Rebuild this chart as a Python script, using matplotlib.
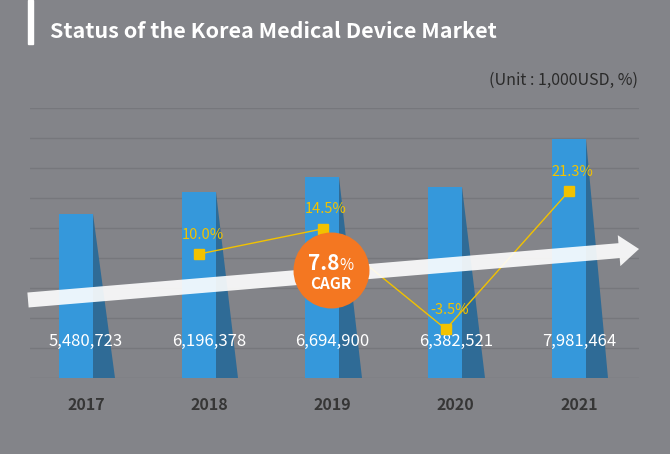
import matplotlib
matplotlib.use('Agg')
import matplotlib.pyplot as plt
from matplotlib.patches import FancyArrow, Polygon
import matplotlib.transforms as mtransforms
import numpy as np

plt.rcParams['font.family'] = ['Noto Sans CJK KR', 'DejaVu Sans']

# data
years = ['2017', '2018', '2019', '2020', '2021']
market = [5480723, 6196378, 6694900, 6382521, 7981464]
growth = [None, 10.0, 14.5, -3.5, 21.3]
cagr = 7.8

bg = '#838489'
blue = '#3598db'
shade = '#2f6b96'
yellow = '#f2c200'
orange = '#f47721'

fig = plt.figure(figsize=(6.7, 4.54), dpi=100)
fig.patch.set_facecolor(bg)
ax = fig.add_axes([30/670, 76/454, 609/670, 270/454])
ax.set_facecolor(bg)

x = np.arange(len(years))
ax.set_xlim(-0.454, 4.487)
ax.set_ylim(0, 9000000)

# grid lines
for g in range(0, 10):
    ax.axhline(g * 1000000, color='#76777c', lw=1, zorder=0)

# bars + shadow triangles
ax.bar(x - 0.222, market, width=0.276, align='edge', color=blue, zorder=2)
for i, v in enumerate(market):
    tri = Polygon([[i + 0.054, v], [i + 0.054, 0], [i + 0.236, 0]],
                  closed=True, color=shade, lw=0, zorder=2)
    ax.add_patch(tri)
    ax.text(i, 1230000, format(v, ','), ha='center', va='center',
            color='white', fontsize=12, zorder=6)

# growth rate on twin axis
ax2 = ax.twinx()
ax2.set_ylim(-12.27, 36.2)
ax2.set_xlim(ax.get_xlim())
gx = [i - 0.08 for i, g in enumerate(growth) if g is not None]
gy = [g for g in growth if g is not None]
ax2.plot(gx, gy, color=yellow, lw=1, zorder=3)
ax2.plot(gx, gy, 's', color=yellow, ms=7.5, lw=0, zorder=7)
for a, b in zip(gx, gy):
    ax2.annotate('%.1f%%' % b, (a, b), xytext=(2.5, 14), textcoords='offset points',
                 ha='center', va='center', color=yellow, fontsize=10.5, zorder=7)

# trend arrow
arr = FancyArrow(0.28, 1.54, 6.11, 0.51, width=0.15, head_width=0.31, head_length=0.2,
                 length_includes_head=True, color='white', alpha=0.9, lw=0,
                 transform=fig.dpi_scale_trans, zorder=5)
ax2.add_patch(arr)
arr.set_clip_on(False)

# CAGR badge
tr = mtransforms.blended_transform_factory(ax.transData, ax.transAxes)
ax2.plot([2 - 0.01], [0.4], 'o', color=orange, ms=54.7, mew=0, transform=tr, zorder=8, clip_on=False)
ax2.text(2 + 0.058, 0.425, '%.1f' % cagr, transform=tr, ha='right', va='center',
         color='white', fontsize=15, fontweight='bold', zorder=9)
ax2.text(2 + 0.058, 0.418, '%', transform=tr, ha='left', va='center',
         color='white', fontsize=11, zorder=9)
ax2.text(2 - 0.01, 0.347, 'CAGR', transform=tr, ha='center', va='center',
         color='white', fontsize=11, fontweight='bold', zorder=9)

for a in (ax, ax2):
    for s in a.spines.values():
        s.set_visible(False)
    a.set_yticks([])
ax2.set_xticks([])
ax.set_xticks(x)
ax.set_xticklabels(years, fontsize=11.5, color='#363636', fontweight='bold')
ax.tick_params(axis='x', length=0, pad=14)

# title and unit
fig.add_artist(plt.Rectangle((28/670, 1 - 44/454), 5/670, 44/454, color='white',
                             transform=fig.transFigure))
fig.text(50/670, 1 - 31/454, 'Status of the Korea Medical Device Market', color='white',
         fontsize=15.5, fontweight='bold', va='center', ha='left')
fig.text(638/670, 1 - 80/454, '(Unit : 1,000USD, %)', color='#2a2a2a',
         fontsize=11.5, va='center', ha='right')

fig.savefig('out.png', dpi=100, facecolor=bg)
